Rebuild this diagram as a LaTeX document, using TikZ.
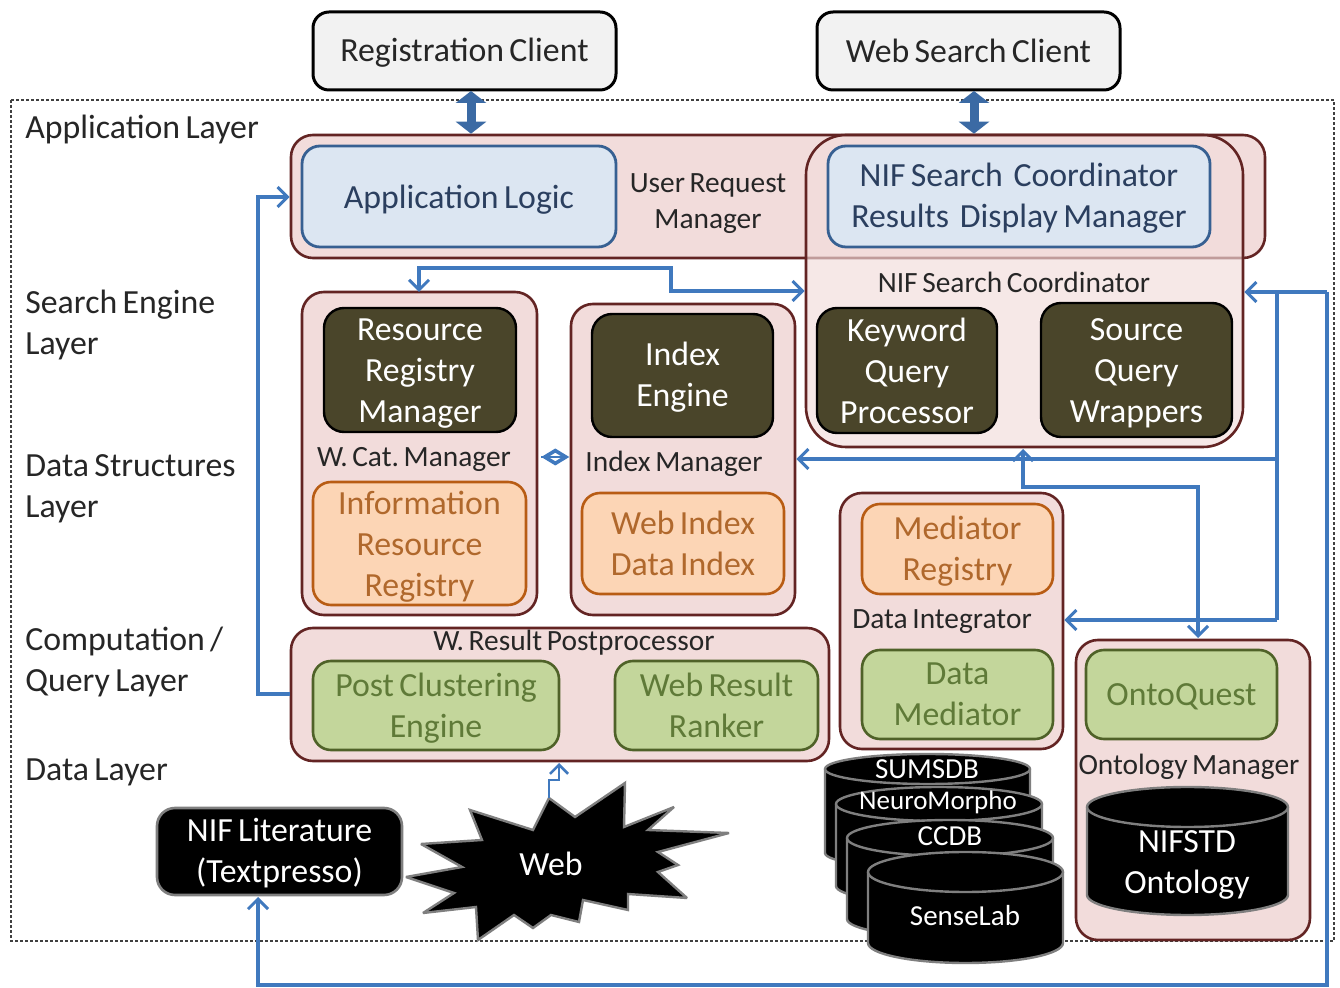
\documentclass[tikz,border=0pt]{standalone}
\usepackage{fontspec}
\setmainfont{Carlito}[WordSpace=0.7]
\usetikzlibrary{arrows.meta,positioning,calc}
\definecolor{pinkf}{HTML}{F2DCDB}
\definecolor{redl}{HTML}{632423}
\definecolor{bluef}{HTML}{DCE6F2}
\definecolor{bluel}{HTML}{376092}
\definecolor{bluet}{HTML}{2B3F5F}
\definecolor{darkf}{HTML}{4A452A}
\definecolor{orangef}{HTML}{FCD5B5}
\definecolor{orangel}{HTML}{B85C14}
\definecolor{oranget}{HTML}{B0682C}
\definecolor{greenf}{HTML}{C3D69B}
\definecolor{greenl}{HTML}{4F6228}
\definecolor{greent}{HTML}{5F7A38}
\definecolor{arrowc}{HTML}{4079BE}
\definecolor{grayl}{HTML}{7F7F7F}
\definecolor{textc}{HTML}{262626}
\newcommand\bigfont{\fontsize{16.9}{20.5}\selectfont}
\newcommand\lblfont{\fontsize{14.7}{18}\selectfont}
% lower a block of centred lines by #1 picture pixels without changing the box
\newcommand\dn[2]{\raisebox{-\dimexpr#1pt/2\relax}[\height][\depth]{\parbox{\hsize}{\centering #2}}}
\tikzset{
  basebox/.style={rectangle,inner sep=0pt,align=flush center,font=\bigfont},
  clientbox/.style={basebox,draw=black,fill=black!5,line width=1.5pt,rounded corners=8pt,text=textc},
  groupbox/.style={basebox,draw=redl,fill=pinkf,line width=1.3pt,rounded corners=11pt},
  coordbox/.style={basebox,draw=redl,fill=pinkf,fill opacity=.65,text opacity=1,line width=1.3pt,rounded corners=20pt},
  bluebox/.style={basebox,draw=bluel,fill=bluef,line width=1.4pt,rounded corners=9pt,text=bluet},
  darkbox/.style={basebox,draw=black,fill=darkf,line width=1.2pt,rounded corners=10pt,text=white},
  orangebox/.style={basebox,draw=orangel,fill=orangef,line width=1.3pt,rounded corners=9pt,text=oranget},
  greenbox/.style={basebox,draw=greenl,fill=greenf,line width=1.3pt,rounded corners=9pt,text=greent},
  blackbox/.style={basebox,draw=grayl,fill=black,line width=1.3pt,rounded corners=9pt,text=white},
  lbl/.style={inner sep=0pt,align=center,font=\lblfont,text=textc},
  layerlbl/.style={inner sep=0pt,align=left,anchor=north west,font=\bigfont,text=textc},
  conn/.style={draw=arrowc,line width=1.7pt,line join=miter,{Straight Barb[length=5pt,width=10pt,line width=1.5pt]}-{Straight Barb[length=5pt,width=10pt,line width=1.5pt]}},
  connr/.style={draw=arrowc,line width=1.7pt,-{Straight Barb[length=5pt,width=10pt,line width=1.5pt]}},
  plainc/.style={draw=arrowc,line width=1.7pt},
  fat/.style={draw=bluel!60!arrowc,line width=4.5pt,{Triangle[length=6pt,width=15pt]}-{Triangle[length=6pt,width=15pt]}},
  diam/.style={draw=arrowc,line width=1.2pt,{Diamond[open,length=14pt,width=8.5pt,line width=1.8pt]}-},
  cyl/.style={draw=grayl,fill=black,line width=1.2pt},
  cyll/.style={inner sep=0pt,text=white,align=center},
}
% name, style, x1, y1, x2, y2, text
\newcommand\bx[7]{%
  \pgfmathsetmacro\cxv{(#3+#5)/2}\pgfmathsetmacro\cyv{(#4+#6)/2}%
  \pgfmathsetmacro\wv{(#5-#3)*0.5}\pgfmathsetmacro\hv{(#6-#4)*0.5}%
  \node[#2,minimum width=\wv pt,minimum height=\hv pt,text width=\wv pt-4pt] (#1) at (\cxv,\cyv) {#7};}
% x1,x2,ytop,ybottom,ry
\newcommand\cylin[5]{%
  \pgfmathsetmacro\rxv{(#2-#1)/2}\pgfmathsetmacro\mxv{(#1+#2)/2}%
  \draw[cyl] (#1,#3+#5) -- (#1,#4-#5) arc[start angle=180,end angle=360,x radius=\rxv,y radius=-#5]
     -- (#2,#3+#5) arc[start angle=0,end angle=180,x radius=\rxv,y radius=-#5] -- cycle;
  \draw[draw=grayl,line width=1.2pt] (#1,#3+#5) arc[start angle=180,end angle=360,x radius=\rxv,y radius=-#5];}
\begin{document}
\begin{tikzpicture}[x=0.5pt,y=-0.5pt]
\useasboundingbox (0,0) rectangle (1340,988);
\fill[white] (0,0) rectangle (1340,988);
% outer dotted frame
\draw[black!75,line width=.6pt,dash pattern=on 1.5pt off 1pt] (11,100) rectangle (1334,941);
% layer labels
\node[layerlbl] (ll1) at (25,115) {Application~Layer};
\node[layerlbl] (ll2) at (25,290) {Search Engine\\Layer};
\node[layerlbl] (ll3) at (25,454) {Data Structures\\Layer};
\node[layerlbl] (ll4) at (25,627) {Computation /\\Query Layer};
\node[layerlbl] (ll5) at (25,758) {Data Layer};
% clients
\bx{reg}{clientbox}{313}{12}{616}{90}{\dn{2}{Registration Client}}
\bx{web}{clientbox}{817}{12}{1120}{90}{Web Search Client}
% user request manager
\bx{urm}{groupbox}{291}{135}{1265}{258}{}
\bx{app}{bluebox}{302}{146}{616}{247}{\dn{3}{Application Logic}}
\node[lbl] (urmlbl) at (708,204) {User Request\\Manager};
% coordinator
\bx{nsc}{coordbox}{806}{135}{1243}{447}{}
\bx{disp}{bluebox}{828}{146}{1210}{247}{\dn{2}{NIF Search~~Coordinator\\Results~~Display Manager}}
\node[lbl] (nsclbl) at (1014,282) {NIF Search~Coordinator};
\bx{kqp}{darkbox}{817}{308}{997}{433}{Keyword\\Query\\Processor}
\bx{sqw}{darkbox}{1041}{303}{1232}{437}{\dn{3}{Source\\Query\\Wrappers}}
% W Cat manager
\bx{wcat}{groupbox}{302}{292}{537}{615}{}
\bx{rrm}{darkbox}{324}{308}{516}{432}{\dn{4}{Resource\\Registry\\Manager}}
\node[lbl] (wcatlbl) at (414,459) {W. Cat.~Manager};
\bx{irr}{orangebox}{313}{482}{526}{605}{\dn{3}{Information\\Resource\\Registry}}
% index manager
\bx{idx}{groupbox}{571}{304}{795}{615}{}
\bx{ieng}{darkbox}{592}{314}{773}{437}{\dn{2}{Index\\Engine}}
\node[lbl] (idxlbl) at (674,464) {Index Manager};
\bx{wdi}{orangebox}{582}{493}{784}{594}{Web Index\\Data Index}
% data integrator
\bx{dint}{groupbox}{840}{493}{1063}{749}{}
\bx{mreg}{orangebox}{862}{504}{1053}{594}{\dn{2}{Mediator\\Registry}}
\node[lbl] (dintlbl) at (942,622) {Data Integrator};
\bx{dmed}{greenbox}{862}{650}{1053}{739}{Data\\Mediator}
% postprocessor
\bx{wrp}{groupbox}{291}{628}{829}{761}{}
\node[lbl] (wrplbl) at (574,643) {W. Result~Postprocessor};
\bx{pce}{greenbox}{313}{661}{559}{750}{\dn{3}{Post Clustering\\Engine}}
\bx{wrr}{greenbox}{615}{661}{818}{750}{Web Result\\Ranker}
% ontology manager
\bx{ontm}{groupbox}{1076}{640}{1310}{940}{}
\bx{oq}{greenbox}{1086}{650}{1277}{739}{\dn{2}{OntoQuest}}
\node[lbl] (ontlbl) at (1189,767) {Ontology Manager};
\cylin{1087}{1288}{787}{915}{20}
\node[cyll,font=\bigfont] (nifstd) at (1187,865) {NIFSTD\\Ontology};
% databases
\cylin{825}{1030}{754}{868}{15}
\node[cyll,font=\fontsize{14.5}{16}\selectfont] (sumsdb) at (927,769) {SUMSDB};
\cylin{836}{1042}{787}{903}{17}
\node[cyll,font=\fontsize{13.5}{16}\selectfont] (neuro) at (938,802) {NeuroMorpho};
\cylin{847}{1053}{820}{937}{18}
\node[cyll,font=\fontsize{14.5}{16}\selectfont] (ccdb) at (950,836) {CCDB};
\cylin{868}{1063}{852}{963}{20}
\node[cyll,font=\fontsize{14.5}{16}\selectfont] (sense) at (965,916) {SenseLab};
% literature and web
\bx{lit}{blackbox}{157}{808}{402}{895}{\dn{2}{NIF Literature\\(Textpresso)}}
\draw[draw=grayl,fill=black,line width=1.2pt,line join=miter,miter limit=3]
 (549,798)--(575,817)--(625,783)--(624,827)--(674,807)--(648,830)--(729,833)--(658,852)--(678,865)--(658,872)--(687,898)--(628,894)--(628,910)--(583,900)--(579,922)--(551,915)--(533,928)--(514,915)--(478,940)--(476,907)--(423,913)--(454,893)--(406,877)--(462,867)--(421,844)--(482,840)--(470,810)--(533,830)--cycle;
\node[inner sep=0pt,text=white,font=\bigfont] (webn) at (551,864) {Web};
\coordinate (webtop) at (549,798);
% connectors
\coordinate (regx) at (471,91);
\coordinate (webx) at (974,91);
\draw[fat] (regx) -- (regx |- urm.north);
\draw[fat] (webx) -- (webx |- nsc.north);
\coordinate (wrpout) at (wrp.west |- 0,694);
\coordinate (leftbus) at (258,694);
\coordinate (urmin) at (urm.west |- 0,197);
\draw[connr] (wrpout) -- (leftbus) |- (urmin);
\coordinate (wcattop) at (419,292);
\coordinate (nscleft) at (nsc.west |- 0,291);
\draw[conn] (wcattop) -- (419,268) -| (671,291) -- (nscleft);
\coordinate (wcatr) at ($(wcat.east |- 0,457)+(3,0)$);
\coordinate (idxl) at ($(idx.west |- 0,457)+(-4,0)$);
\draw[diam] (wcatr) -- (idxl);
\draw[plainc,line width=1.1pt] (wcatr) -- (idxl);
% right bus
\coordinate (nscr) at (nsc.east |- 0,292);
\coordinate (busc) at (1277,292);
\coordinate (farr) at (1327,292);
\coordinate (litb) at (258,897);
\draw[connr] (farr) -- (nscr);
\draw[connr] (farr) -- (1327,985) -| (litb);
\draw[plainc] (busc) -- (1277,620);
\coordinate (idxr) at (idx.east |- 0,459);
\coordinate (dintr) at (dint.east |- 0,620);
\draw[connr] (1277,459) -- (idxr);
\draw[connr] (1277,620) -- (dintr);
\coordinate (nscb) at (1023,449);
\coordinate (ontt) at (1198,638);
\draw[conn] (nscb) -- (1023,487) -| (ontt);
\coordinate (wrpb) at (559,763);
\draw[draw=arrowc,line width=1.3pt,-{Straight Barb[length=4.5pt,width=9pt,line width=1.3pt]}] (webtop) -- (549,780) -| (wrpb);
\end{tikzpicture}
\end{document}
